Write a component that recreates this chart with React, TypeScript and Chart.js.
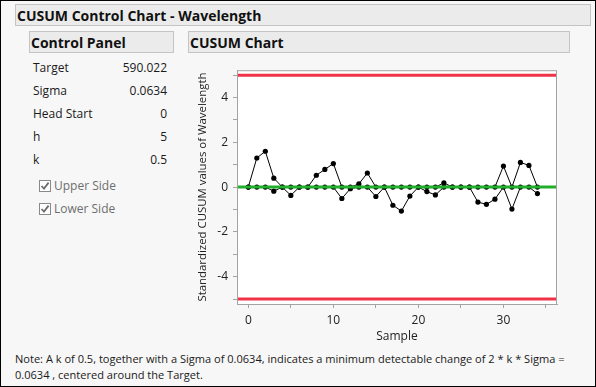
import React, { useEffect, useRef } from "react";
import { Chart, registerables } from "chart.js";

Chart.register(...registerables);

// ---- data ----
const samples = [0, 1, 2, 3, 4, 5, 6, 7, 8, 9, 10, 11, 12, 13, 14, 15, 16, 17, 18, 19, 20, 21, 22, 23, 24, 25, 26, 27, 28, 29, 30, 31, 32, 33, 34];
const upperCusum = [0, 1.3, 1.6, 0.4, 0, 0, 0, 0, 0.53, 0.79, 1.05, 0, 0, 0.14, 0.63, 0, 0, 0, 0, 0, 0, 0, 0, 0.19, 0, 0, 0, 0, 0, 0, 0.94, 0, 1.1, 0.97, 0];
const lowerCusum = [0, 0, 0, -0.18, 0, -0.37, 0, 0, 0, 0, 0, -0.51, -0.07, 0, 0, -0.42, 0, -0.81, -1.07, -0.4, 0, -0.2, -0.35, 0, 0, 0, 0, -0.67, -0.77, -0.54, 0, -0.98, 0, 0, -0.29];
const decisionLimits = [5, -5];
const centerLine = [0];
const xTickValues = [0, 5, 10, 15, 20, 25, 30, 35];
const xTickLabels = [0, 10, 20, 30];
const yTickValues = [-5, -4, -3, -2, -1, 0, 1, 2, 3, 4, 5];
const yTickLabels = [-4, -2, 0, 2, 4];
const panelLabels = ["Target", "Sigma", "Head Start", "h", "k"];
const panelValues = ["590.022", "0.0634", "0", "5", "0.5"];
const sideOptions = ["Upper Side", "Lower Side"];

const FONT = "'Open Sans', 'Noto Sans', sans-serif";
const RED = "#F03249";
const GREEN = "#22AD2C";
const FRAME = "#A3A3A3";

const overlayPlugin = {
  id: "overlay",
  beforeDraw(chart: any) {
    const { ctx, chartArea } = chart;
    ctx.save();
    ctx.fillStyle = "#FFFFFF";
    ctx.fillRect(chartArea.left, chartArea.top, chartArea.right - chartArea.left, chartArea.bottom - chartArea.top);
    ctx.restore();
  },
  afterDatasetsDraw(chart: any) {
    const { ctx, chartArea, scales } = chart;
    const y = scales.y;
    ctx.save();
    ctx.lineWidth = 3;
    ctx.strokeStyle = RED;
    decisionLimits.forEach((v) => {
      const py = y.getPixelForValue(v);
      ctx.beginPath();
      ctx.moveTo(chartArea.left, py);
      ctx.lineTo(chartArea.right, py);
      ctx.stroke();
    });
    ctx.strokeStyle = GREEN;
    centerLine.forEach((v) => {
      const py = y.getPixelForValue(v);
      ctx.beginPath();
      ctx.moveTo(chartArea.left, py);
      ctx.lineTo(chartArea.right, py);
      ctx.stroke();
    });
    ctx.lineWidth = 1;
    ctx.strokeStyle = FRAME;
    ctx.strokeRect(chartArea.left + 0.5, chartArea.top + 0.5, chartArea.right - chartArea.left - 1, chartArea.bottom - chartArea.top);
    ctx.restore();
  },
};

function CusumChart() {
  const ref = useRef<HTMLCanvasElement | null>(null);
  useEffect(() => {
    if (!ref.current) return;
    const mk = (arr: number[]) => samples.map((s, i) => ({ x: s, y: arr[i] }));
    const chart = new Chart(ref.current, {
      type: "line",
      data: {
        datasets: [
          {
            label: "Upper",
            data: mk(upperCusum),
            borderColor: "#000",
            backgroundColor: "#000",
            borderWidth: 1,
            pointRadius: 2.6,
            pointBorderWidth: 0,
            tension: 0,
          },
          {
            label: "Lower",
            data: mk(lowerCusum),
            borderColor: "#000",
            backgroundColor: "#000",
            borderWidth: 1,
            pointRadius: 2.6,
            pointBorderWidth: 0,
            tension: 0,
          },
        ],
      },
      options: {
        animation: false,
        responsive: false,
        devicePixelRatio: 1,
        layout: { padding: { top: 6, right: 11, left: 0, bottom: 0 } },
        plugins: { legend: { display: false }, tooltip: { enabled: false } },
        scales: {
          x: {
            type: "linear",
            min: -1.33,
            max: 36.3,
            afterBuildTicks: (scale: any) => {
              scale.ticks = xTickValues.map((v) => ({ value: v }));
            },
            afterFit: (scale: any) => {
              scale.height = 44;
            },
            ticks: {
              autoSkip: false,
              maxRotation: 0,
              padding: 5,
              color: "#222",
              font: { family: FONT, size: 12 },
              callback: (v: any) => (xTickLabels.includes(Number(v)) ? String(v) : ""),
            },
            grid: { drawOnChartArea: false, drawTicks: true, tickLength: 4, tickColor: FRAME },
            border: { color: FRAME },
            title: {
              display: true,
              text: "Sample",
              color: "#222",
              font: { family: FONT, size: 12 },
              padding: { top: 0, bottom: 4 },
            },
          },
          y: {
            type: "linear",
            min: -5.22,
            max: 5.22,
            afterBuildTicks: (scale: any) => {
              scale.ticks = yTickValues.map((v) => ({ value: v }));
            },
            afterFit: (scale: any) => {
              scale.width = 49;
            },
            ticks: {
              autoSkip: false,
              padding: 5,
              color: "#222",
              font: { family: FONT, size: 12 },
              callback: (v: any) => (yTickLabels.includes(Number(v)) ? String(v) : ""),
            },
            grid: { drawOnChartArea: false, drawTicks: true, tickLength: 4, tickColor: FRAME },
            border: { color: FRAME },
            title: {
              display: true,
              text: "Standardized CUSUM values of Wavelength",
              color: "#222",
              font: { family: FONT, size: 11.4 },
              padding: { top: 8, bottom: 0 },
            },
          },
        },
      },
      plugins: [overlayPlugin],
    } as any);
    return () => chart.destroy();
  }, []);
  return (
    <canvas
      ref={ref}
      width={380}
      height={290}
      style={{ position: "absolute", left: 188, top: 58, width: 380, height: 290 }}
    />
  );
}

const headerBox = (left: number, top: number, width: number, text: string, size: number) => (
  <div
    style={{
      position: "absolute",
      left,
      top,
      width,
      height: 22,
      boxSizing: "border-box",
      border: "1px solid #C4C4C4",
      background: "#EBEBEB",
      paddingLeft: 1,
      display: "flex",
      alignItems: "center",
      fontWeight: 700,
      fontSize: size,
      color: "#111",
      whiteSpace: "nowrap",
    }}
  >
    {text}
  </div>
);

function CheckBox() {
  return (
    <span
      style={{
        position: "absolute",
        left: 0,
        top: -6,
        width: 12,
        height: 12,
        boxSizing: "border-box",
        border: "1px solid #8A8A8A",
        background: "#FFF",
      }}
    >
      <svg width="10" height="10" viewBox="0 0 10 10" style={{ position: "absolute", left: 0, top: 0 }}>
        <path d="M1.5 5 L4 7.6 L8.6 1.6" stroke="#6E6E6E" strokeWidth="1.8" fill="none" />
      </svg>
    </span>
  );
}

export default function App() {
  return (
    <div
      style={{
        position: "fixed",
        left: 0,
        top: 0,
        width: 596,
        height: 387,
        background: "#F7F7F7",
        fontFamily: FONT,
        color: "#1A1A1A",
        overflow: "hidden",
      }}
    >
      {headerBox(15, 4, 576, "CUSUM Control Chart - Wavelength", 14)}
      {headerBox(29, 31, 145, "Control Panel", 14)}
      {headerBox(188, 31, 382, "CUSUM Chart", 14)}
      {panelLabels.map((lab, i) => (
        <div key={lab} style={{ position: "absolute", left: 33, top: 68 + i * 23 - 9, width: 134, height: 18, fontSize: 12, lineHeight: "18px" }}>
          <span style={{ position: "absolute", left: 0 }}>{lab}</span>
          <span style={{ position: "absolute", right: 0 }}>{panelValues[i]}</span>
        </div>
      ))}
      {sideOptions.map((lab, i) => (
        <div key={lab} style={{ position: "absolute", left: 39, top: 186 + i * 23, height: 0 }}>
          <CheckBox />
          <span style={{ position: "absolute", left: 15, top: -9, fontSize: 12, lineHeight: "18px", color: "#6E6E6E", whiteSpace: "nowrap" }}>{lab}</span>
        </div>
      ))}
      <CusumChart />
      <div style={{ position: "absolute", left: 15, top: 351, width: 580, fontSize: 11.05, lineHeight: "16px", color: "#1A1A1A" }}>
        <div style={{ whiteSpace: "nowrap" }}>Note: A k of 0.5, together with a Sigma of 0.0634, indicates a minimum detectable change of 2 * k * Sigma =</div>
        <div style={{ whiteSpace: "nowrap" }}>0.0634 , centered around the Target.</div>
      </div>
      <div
        style={{
          position: "absolute",
          left: 0,
          top: 0,
          width: 596,
          height: 387,
          boxSizing: "border-box",
          border: "1px solid #000",
          pointerEvents: "none",
        }}
      />
    </div>
  );
}
